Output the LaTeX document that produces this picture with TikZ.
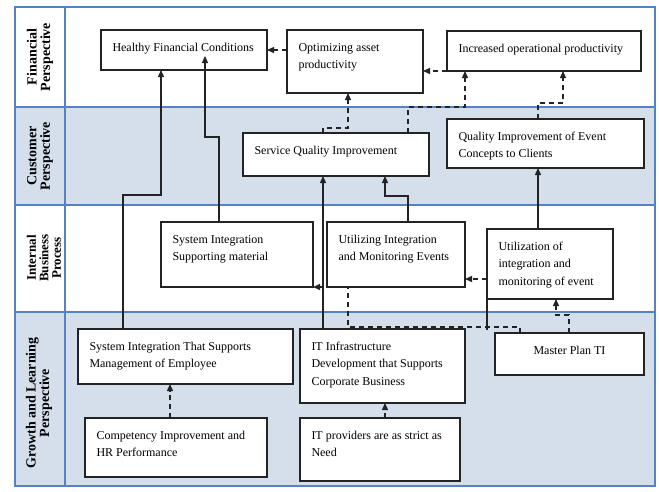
\documentclass[tikz,border=0pt]{standalone}
\usepackage{fontspec}
\setmainfont{Liberation Serif}
\usepackage{tikz}
\usetikzlibrary{arrows.meta}

\definecolor{lanefill}{RGB}{212,223,235}
\definecolor{laneline}{RGB}{84,130,194}
\definecolor{boxline}{RGB}{35,35,35}

% text of a box, set from its top
\newcommand{\boxtext}[4][\raggedright]{\parbox[c][#3][t]{#2}{#1\rule{0pt}{21pt}#4}}

\begin{document}
\begin{tikzpicture}[x=1pt, y=-1pt,
	pbox/.style={draw=boxline, line width=1.1pt, fill=white, inner xsep=11.5pt, inner ysep=0pt, outer sep=0pt, anchor=north west, font=\fontsize{12}{17.5}\selectfont},
	lanelabel/.style={rotate=90, align=center, font=\bfseries\fontsize{14}{13.5}\selectfont},
	solidarr/.style={draw=boxline, line width=1.3pt, -{Triangle[length=7pt,width=6pt]}},
	dasharr/.style={draw=boxline, line width=1.3pt, dash pattern=on 5pt off 4pt, -{Triangle[length=7pt,width=6pt]}}]
		
		\useasboundingbox (0,0) rectangle (659,491);
		\fill[white] (0,0) rectangle (659,491);
		
		%//lanes
		\fill[lanefill] (15,107) rectangle (655,205);
		\fill[lanefill] (15,312) rectangle (655,486);
		\foreach \y in {107,205,312}
		\draw[laneline, line width=2pt] (15,\y) -- (655,\y);
		\draw[laneline, line width=2pt] (65,7) -- (65,486);
		\draw[laneline, line width=2pt] (15,7) rectangle (655,486);
		
		\node[lanelabel] (lfin) at (40,57) {Financial\\Perspective};
		\node[lanelabel] (lcus) at (40,156) {Customer\\Perspective};
		\node[lanelabel, font=\bfseries\fontsize{13}{12.5}\selectfont] (lint) at (44,258) {Internal\\Business\\Process};
		\node[lanelabel] (lgro) at (39,403) {Growth and Learning\\Perspective};
		
		%//boxes
		\node[pbox] (hfc) at (101,30) {\boxtext{143pt}{40pt}{Healthy Financial Conditions}};
		\node[pbox] (oap) at (287,30) {\boxtext{113pt}{63pt}{Optimizing asset\\productivity}};
		\node[pbox] (iop) at (447,31) {\boxtext{171pt}{40pt}{Increased operational productivity}};
		\node[pbox] (sqi) at (243,133) {\boxtext{163pt}{43pt}{Service Quality Improvement}};
		\node[pbox] (qie) at (447,119) {\boxtext{174pt}{49pt}{Quality Improvement of Event\\Concepts to Clients}};
		\node[pbox] (sism) at (161,222) {\boxtext{129pt}{65pt}{System Integration\\Supporting material}};
		\node[pbox] (uime) at (327,222) {\boxtext{115pt}{65pt}{Utilizing Integration\\and Monitoring Events}};
		\node[pbox] (uie) at (487,229) {\boxtext{103pt}{70pt}{Utilization of\\integration and\\monitoring of event}};
		\node[pbox] (sitsme) at (78,329) {\boxtext{192pt}{55pt}{System Integration That Supports\\Management of Employee}};
		\node[pbox] (itid) at (300,329) {\boxtext{142pt}{74pt}{IT Infrastructure\\Development that Supports\\Corporate Business}};
		\node[pbox] (mpti) at (495,333) {\boxtext[\centering]{126pt}{42pt}{Master Plan TI}};
		\node[pbox] (cihp) at (85,418) {\boxtext{159pt}{59pt}{Competency Improvement and\\HR Performance}};
		\node[pbox] (itpn) at (300,418) {\boxtext{137pt}{63pt}{IT providers are as strict as\\Need}};
		
		%//solid links
		\draw[solidarr] ([xshift=45pt]sitsme.north west) |- (161,195) -- ([xshift=60pt]hfc.south west);
		\draw[solidarr] ([xshift=58pt]sism.north west) |- (205,137) -- ([xshift=104pt,yshift=14pt]hfc.south west);
		\draw[solidarr] ([xshift=81pt]uime.north west) |- (385,196) -- ([xshift=142pt]sqi.south west);
		\draw[solidarr] ([xshift=23pt]itid.north west) -- ([xshift=80pt]sqi.south west);
		\draw[solidarr] ([xshift=51pt]uie.north west) -- ([xshift=91pt]qie.south west);
		\draw[draw=boxline, line width=1.3pt] (uie.south west) -- ++(0,31);
		
		%//dashed links
		\draw[dasharr] (oap.west |- hfc.east) -- (hfc.east);
		\draw[dasharr] (iop.south west) -- (oap.east |- iop.south west);
		\draw[dasharr] ([xshift=80pt]sqi.north west) |- (348,128) -- ([xshift=61pt]oap.south west);
		\draw[dasharr] ([xshift=165pt]sqi.north west) |- (465,107) -- ([xshift=18pt]iop.south west);
		\draw[dasharr] ([xshift=91pt]qie.north west) |- (563,103) -- ([xshift=116pt]iop.south west);
		\draw[dasharr] ([yshift=-50pt]uie.north west) -- ([yshift=-57pt]uime.north east);
		\draw[dasharr] ([xshift=25pt]mpti.north west) |- (348,327) |- (sism.south east);
		\draw[dasharr] ([xshift=74pt]mpti.north west) |- (556,315) -- ([xshift=69pt]uie.south west);
		\draw[dasharr] ([xshift=85pt]cihp.north west) -- ([xshift=92pt]sitsme.south west);
		\draw[dasharr] ([xshift=85pt]itpn.north west) -- ([xshift=85pt]itid.south west);
		
\end{tikzpicture}
\end{document}
